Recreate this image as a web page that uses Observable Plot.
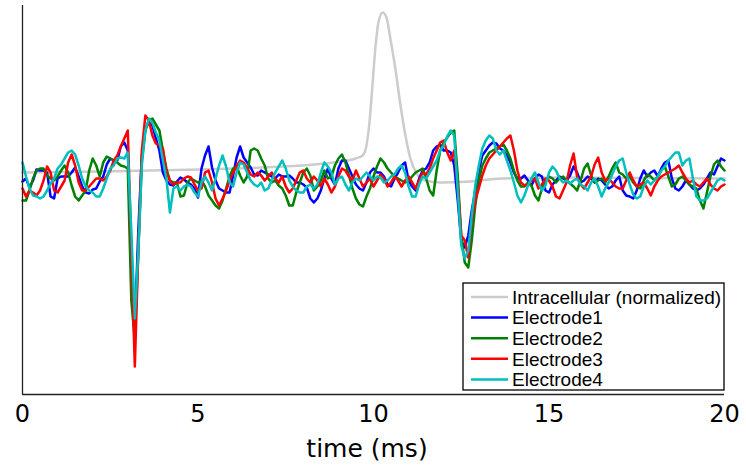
<!DOCTYPE html>
<html><head><meta charset="utf-8">
<script src="https://cdn.jsdelivr.net/npm/d3@7"></script>
<script src="https://cdn.jsdelivr.net/npm/@observablehq/plot@0.6"></script>
<style>body{margin:0;background:#fff}#chart{width:746px;height:468px}</style>
</head><body><div id="chart"></div>
<script>
const xTicks = [0, 5, 10, 15, 20];
const seriesNames = ["Intracellular (normalized)", "Electrode1", "Electrode2", "Electrode3", "Electrode4"];
const seriesColors = ["#cccccc", "#0000ff", "#008000", "#ff0000", "#00bfbf"];
const sampleStep = 0.1; // ms

const intraTime = [0, 2.22, 5.07, 6.78, 7.92, 8.86, 9.49, 9.69, 9.80, 9.89, 9.97, 10.06, 10.14, 10.26, 10.37, 10.48, 10.63, 10.77, 10.91, 11.05, 11.23, 11.48, 11.91, 12.76, 13.62, 15.33, 20];
const intraValue = [13, 14, 16, 18, 20, 23, 27, 30, 40, 65, 100, 140, 163, 173, 168, 147, 115, 80, 50, 27, 12, 5, 3, 4, 7, 8, 7];

const electrode1 = [4,7,-2,5,16,15,15,13,-11,-13,
 7,9,9,9,13,18,9,-1,-7,-8,
 -4,-3,4,9,21,27,25,25,39,43,
 35,-75,-143,-45,30,57,63,60,47,35,
 13,5,1,0,4,8,6,3,1,-3,
 -12,17,30,39,18,5,-3,-5,-7,-7,
 10,28,39,28,23,18,11,10,15,13,
 11,9,7,11,9,9,10,7,3,3,
 1,-2,-13,-17,-13,-5,7,17,7,1,
 17,25,25,17,9,1,-3,-5,3,13,
 17,13,13,9,1,-1,7,13,20,23,
 5,-1,-5,7,15,17,23,35,39,41,
 35,35,33,20,-15,-55,-62,-50,-25,-5,
 15,30,35,40,43,42,37,35,30,23,
 13,7,7,10,5,0,7,11,9,-5,
 -7,1,5,9,7,5,10,19,13,3,
 5,9,7,3,7,5,1,-3,-1,5,
 9,-5,-10,-11,-13,-5,7,15,9,13,
 15,9,17,23,25,7,-3,-5,-1,5,
 1,-3,-5,-3,1,7,13,11,19,27,25];

const electrode2 = [-15,-15,-5,7,15,17,17,10,7,5,
 9,15,20,13,0,-11,-15,-10,-5,15,
 27,20,9,23,29,27,25,23,20,19,
 17,-115,-155,-65,25,55,65,67,61,55,
 35,17,5,3,3,-11,-10,3,7,5,
 3,5,-1,-10,-15,-20,-23,-15,-3,9,
 17,19,10,3,9,35,37,35,27,20,
 7,3,5,0,-3,-10,-20,-20,-7,3,
 13,17,10,-5,-1,5,15,7,9,20,
 27,31,23,10,-3,-13,-19,-21,-11,-3,
 9,19,27,23,17,13,9,7,5,3,
 5,9,13,15,17,7,-5,-10,15,35,
 43,48,53,55,10,-50,-77,-82,-55,-20,
 5,20,27,33,35,37,39,41,35,27,
 15,5,-1,-1,3,0,-10,-15,-3,5,
 9,7,3,7,9,5,2,-1,-5,5,
 17,22,10,3,5,7,3,9,17,23,
 13,11,7,9,3,-1,-3,5,11,9,
 5,9,15,19,9,-1,1,7,9,5,
 1,-1,-3,-15,-23,-7,9,21,25,19,15];

const electrode3 = [-3,-11,-5,-7,-10,-5,5,19,13,-5,
 -7,-1,5,23,31,20,3,-5,-5,-1,
 3,7,7,5,9,15,25,30,39,47,
 55,-65,-181,-65,35,70,65,50,42,40,
 37,13,5,1,3,3,7,9,8,1,
 -5,-3,13,15,3,-13,-20,-13,-5,5,
 13,19,25,23,17,11,9,13,10,5,
 9,13,7,3,9,-1,-7,-3,5,13,
 15,7,3,9,5,-1,7,1,-7,-1,
 9,17,15,9,5,15,7,-1,3,7,
 -1,5,11,7,-1,3,9,5,-1,5,
 9,3,-3,5,13,11,17,27,35,43,
 45,33,25,35,0,-50,-55,-72,-35,-15,
 -3,10,20,27,31,35,39,43,47,50,
 35,15,3,0,1,5,7,-3,1,7,
 5,-1,-11,-13,-5,3,20,32,9,1,
 -3,3,9,21,28,13,5,7,3,-1,
 -3,-3,5,13,5,-1,1,3,-3,-10,
 -1,5,9,11,13,15,17,20,13,7,
 3,5,1,-1,3,7,1,-3,-5,-1,1];

const electrode4 = [23,9,-3,-10,-11,-13,-11,-5,2,7,
 17,21,27,33,35,31,20,7,-1,-5,
 -7,-11,-11,-3,7,17,20,27,28,27,
 33,-45,-133,-65,20,55,67,63,53,45,
 25,7,-27,-3,-1,-5,-1,1,-1,-7,
 -11,3,9,3,-5,7,20,30,19,3,
 -1,13,23,21,13,5,1,-1,3,-5,
 -3,5,13,19,25,17,5,-1,-5,-7,
 -7,-1,1,-3,1,13,23,19,13,1,
 7,9,1,-5,3,7,5,9,13,9,
 5,9,8,3,5,9,11,17,20,13,
 -1,-11,-11,1,9,7,13,19,25,35,
 40,49,55,50,-5,-60,-73,-65,-30,0,
 20,37,45,50,47,35,31,35,25,15,
 3,-10,-17,-10,0,7,13,3,-5,0,
 13,19,15,7,3,5,2,5,7,1,
 -1,-5,3,7,-1,-11,-3,3,11,19,
 25,27,13,1,-9,-13,-11,-1,5,1,
 5,9,15,19,25,29,33,33,20,25,
 27,7,-11,-15,-15,-13,-7,-1,5,7,5];

const electrodes = [electrode1, electrode2, electrode3, electrode4];
const time = electrode1.map((_, i) => +(i * sampleStep).toFixed(2));
const intra = intraTime.map((t, i) => ({t, v: intraValue[i]}));
const yDomain = [-209, 180];

const svg = Plot.plot({
  width: 746, height: 468,
  marginTop: 5, marginBottom: 74, marginLeft: 22, marginRight: 22,
  style: {background: "#fff", color: "#000", fontFamily: "DejaVu Sans"},
  x: {domain: [0, 20]},
  y: {domain: yDomain, axis: null},
  marks: [
    Plot.line(intra, {x: "t", y: "v", stroke: seriesColors[0], strokeWidth: 2.5, curve: "monotone-x"}),
    ...electrodes.map((arr, s) => Plot.line(arr, {x: (d, i) => time[i], y: d => d, stroke: seriesColors[s + 1], strokeWidth: 2.5, strokeLinejoin: "round"})),
    Plot.ruleX([0], {stroke: "#222", strokeWidth: 1.3}),
    Plot.ruleY([yDomain[0]], {stroke: "#222", strokeWidth: 1.3}),
    Plot.axisX({ticks: xTicks, tickSize: 0, tickPadding: 10, fontSize: 24, fontFamily: "DejaVu Sans", label: null})
  ]
});

const s = d3.select(svg);
s.append("text").attr("x", 367).attr("y", 457).attr("text-anchor", "middle")
  .style("font-family", "DejaVu Sans").style("font-size", "25px").attr("fill", "#000").text("time (ms)");

const lg = s.append("g").attr("text-anchor", "start");
lg.append("rect").attr("x", 463).attr("y", 283).attr("width", 261).attr("height", 107)
  .attr("fill", "#fff").attr("stroke", "#000").attr("stroke-width", 1.3);
seriesNames.forEach((name, i) => {
  const y = 297 + i * 20.6;
  lg.append("line").attr("x1", 471).attr("x2", 508).attr("y1", y).attr("y2", y)
    .attr("stroke", seriesColors[i]).attr("stroke-width", 2.5);
  lg.append("text").attr("x", 512).attr("y", y).attr("dy", "0.36em").attr("text-anchor", "start")
    .style("font-family", "Liberation Sans").style("font-size", "19px").attr("fill", "#000").text(name);
});

document.getElementById("chart").appendChild(svg);
</script>
</body></html>
